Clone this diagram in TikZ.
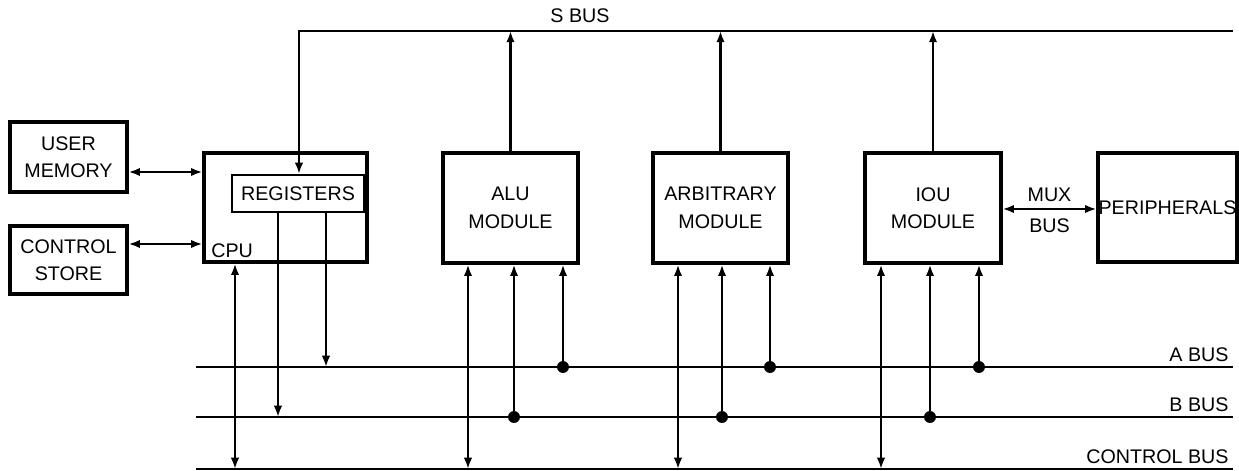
\documentclass[tikz,border=0pt]{standalone}
\usepackage{fontspec}
\setmainfont{Liberation Sans}
\usetikzlibrary{arrows.meta,positioning,calc}
\tikzset{
  unit/.style={draw, line width=2.4pt, inner sep=0pt, align=center, font=\fontsize{14}{19.5}\selectfont},
  regbox/.style={draw, line width=1.5pt, inner sep=0pt, font=\fontsize{14}{16}\selectfont},
  lbl/.style={inner sep=0pt, font=\fontsize{14}{16}\selectfont},
  busline/.style={line width=1.5pt},
  uarr/.style={-{Latex[length=8pt,width=6pt]}, line width=1.5pt},
  darr/.style={{Latex[length=8pt,width=6pt]}-{Latex[length=8pt,width=6pt]}, line width=1.5pt},
  tap/.style={circle, fill, inner sep=0pt, minimum size=8.5pt},
}

\begin{document}
\begin{tikzpicture}[x=0.025cm, y=-0.025cm]
\useasboundingbox (0,0) rectangle (1239,471);
% bus end points
\coordinate (sbusL) at (299,31);
\coordinate (sbusR) at (1233,31);
\coordinate (abusL) at (196,367);
\coordinate (abusR) at (1233,367);
\coordinate (bbusL) at (196,417);
\coordinate (bbusR) at (1233,417);
\coordinate (cbusL) at (196,469);
\coordinate (cbusR) at (1233,469);
% left side: memory, control store, CPU
\node[unit, minimum width=2.925cm, minimum height=1.75cm] (umem) at (68.5,157) {USER\\MEMORY};
\node[unit, minimum width=2.925cm, minimum height=1.7cm] (cstore) at (68.5,260) {CONTROL\\STORE};
\node[unit, minimum width=4.075cm, minimum height=2.725cm] (cpu) at (285.5,207.5) {};
\node[regbox, minimum width=3.3cm, minimum height=0.925cm] (regs) at (298,193.5) {REGISTERS};
\node[lbl, anchor=south west] (cpulbl) at ([xshift=0.22cm, yshift=0.14cm]cpu.south west) {CPU};
% modules
\node[unit, minimum width=3.375cm, minimum height=2.75cm] (alu) at (510.5,208) {ALU\\MODULE};
\node[unit, minimum width=3.375cm, minimum height=2.75cm] (arb) at (720.5,208) {ARBITRARY\\MODULE};
\node[unit, minimum width=3.4cm, minimum height=2.75cm] (iou) at (933,208) {IOU\\MODULE};
\node[unit, minimum width=3.475cm, minimum height=2.725cm] (peri) at (1167.5,207.5) {PERIPHERALS};
% buses
\draw[busline] (abusL) -- (abusR);
\draw[busline] (bbusL) -- (bbusR);
\draw[busline] (cbusL) -- (cbusR);
\node[lbl, above left=3.5pt and 3pt of abusR] (abuslbl) {A BUS};
\node[lbl, above left=3.5pt and 3pt of bbusR] (bbuslbl) {B BUS};
\node[lbl, above left=3.5pt and 3pt of cbusR] (cbuslbl) {CONTROL BUS};
% S bus into the registers
\draw[uarr] (sbusR) -- (sbusL) -- (sbusL |- regs.north);
\node[lbl, above=5.5pt] (sbuslbl) at (580,31) {S BUS};
% memory and control store to CPU
\draw[darr] (umem.east |- 0,172) -- (cpu.west |- 0,172);
\draw[darr] (cstore.east |- 0,244) -- (cpu.west |- 0,244);
% CPU and registers to the buses
\draw[darr] (235,0 |- cpu.south) -- (235,0 |- cbusL);
\draw[uarr] (278,0 |- regs.south) -- (278,0 |- bbusL);
\draw[uarr] (326,0 |- regs.south) -- (326,0 |- abusL);
% modules to the buses
\foreach \m/\c/\b/\a in {alu/468/514/563, arb/678/722/770, iou/881/930/979}{
  \draw[uarr] (\m.north) -- (\m.north |- sbusL);
  \draw[darr] (\c,0 |- \m.south) -- (\c,0 |- cbusL);
  \node[tap] (\m-b) at (\b,0 |- bbusL) {};
  \node[tap] (\m-a) at (\a,0 |- abusL) {};
  \draw[uarr] (\m-b.center) -- (\b,0 |- \m.south);
  \draw[uarr] (\m-a.center) -- (\a,0 |- \m.south);
}
% MUX bus
\coordinate (muxL) at (iou.east |- 0,209);
\coordinate (muxR) at (peri.west |- 0,209);
\draw[darr] (muxL) -- (muxR);
\node[lbl, above=5pt] (muxlbl) at ($(muxL)!0.5!(muxR)$) {MUX};
\node[lbl, below=7pt] (muxbus) at ($(muxL)!0.5!(muxR)$) {BUS};
\end{tikzpicture}
\end{document}
